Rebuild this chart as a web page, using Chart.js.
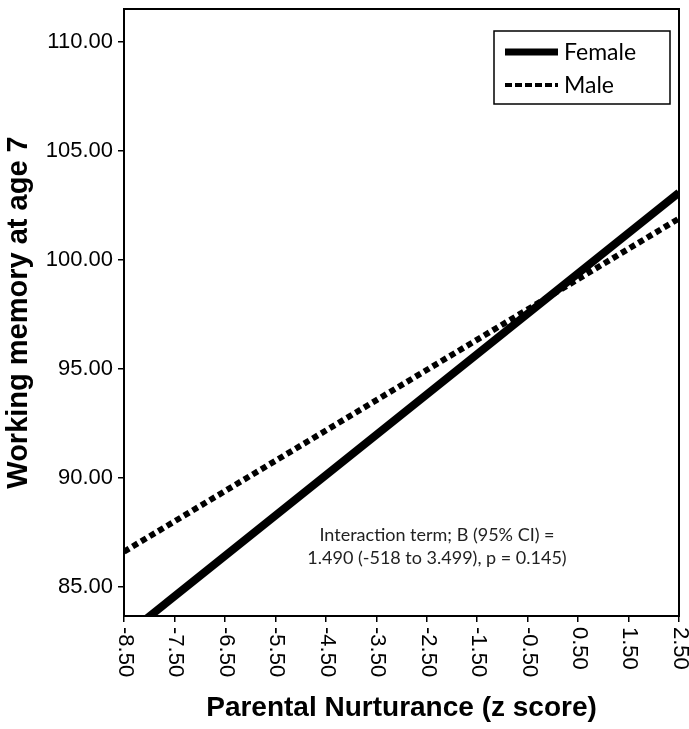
<!DOCTYPE html>
<html>
<head>
<meta charset="utf-8">
<script src="https://cdn.jsdelivr.net/npm/chart.js@4"></script>
<style>
  body { margin: 0; background: #fff; }
  canvas { display: block; }
</style>
</head>
<body>
<canvas id="chart" width="689" height="729"></canvas>
<script>
// values
const nurturance = [-8.5, 2.5];
const female = [82.72, 103.09];
const male = [86.62, 101.9];
const xTicks = [-8.5, -7.5, -6.5, -5.5, -4.5, -3.5, -2.5, -1.5, -0.5, 0.5, 1.5, 2.5];
const yTicks = [85, 90, 95, 100, 105, 110];
const yMin = 83.67;
const yMax = 111.51;
const note = ["Interaction term; B (95% CI) =", "1.490 (-518 to 3.499), p = 0.145)"];

var canvas = document.getElementById("chart");

// frame, rotated x labels, legend box and note
const extras = {
  id: "extras",
  afterDraw(chart) {
    const ctx = chart.ctx;
    const a = chart.chartArea;
    const xs = chart.scales.x;
    ctx.save();

    ctx.strokeStyle = "#000";
    ctx.lineWidth = 2;
    ctx.strokeRect(a.left, a.top, a.right - a.left, a.bottom - a.top);

    // x tick labels read top to bottom
    ctx.fillStyle = "#000";
    ctx.font = "22px 'Liberation Sans', Arial, sans-serif";
    ctx.textAlign = "left";
    ctx.textBaseline = "middle";
    xs.ticks.forEach((t) => {
      const px = xs.getPixelForValue(t.value);
      ctx.save();
      ctx.translate(px + 1, a.bottom + 11);
      ctx.rotate(Math.PI / 2);
      ctx.fillText(t.value.toFixed(2), 0, 0);
      ctx.restore();
    });

    // legend
    const lx = 494, ly = 31, lw = 176, lh = 73;
    ctx.lineWidth = 1.5;
    ctx.strokeRect(lx, ly, lw, lh);
    ctx.font = "23px Lato, 'Open Sans', sans-serif";
    ctx.textAlign = "left";
    ctx.textBaseline = "middle";
    chart.data.datasets.forEach((ds, i) => {
      const y = ly + 21 + i * 33;
      ctx.save();
      ctx.strokeStyle = ds.borderColor;
      ctx.lineWidth = i === 0 ? 7 : 4;
      ctx.setLineDash(i === 0 ? [] : [7, 3]);
      ctx.beginPath();
      ctx.moveTo(lx + 11, y);
      ctx.lineTo(lx + 64, y);
      ctx.stroke();
      ctx.restore();
      ctx.fillText(ds.label, lx + 70, y + 1);
    });

    // note
    ctx.fillStyle = "#222";
    ctx.font = "18px Lato, 'Open Sans', sans-serif";
    ctx.textAlign = "center";
    ctx.textBaseline = "alphabetic";
    note.forEach((line, i) => ctx.fillText(line, 437, 541 + i * 23));

    ctx.restore();
  },
};

const chart = new Chart(canvas, {
  type: "scatter",
  data: {
    datasets: [
      {
        label: "Female",
        data: nurturance.map((x, i) => ({ x: x, y: female[i] })),
        showLine: true,
        borderColor: "#000",
        borderWidth: 8,
        pointRadius: 0,
        clip: 0,
      },
      {
        label: "Male",
        data: nurturance.map((x, i) => ({ x: x, y: male[i] })),
        showLine: true,
        borderColor: "#000",
        borderWidth: 6,
        borderDash: [6, 4],
        pointRadius: 0,
        clip: 0,
      },
    ],
  },
  options: {
    responsive: false,
    devicePixelRatio: 1,
    animation: false,
    layout: { padding: { top: 9, right: 10, left: 0, bottom: 0 } },
    plugins: {
      legend: { display: false },
      tooltip: { enabled: false },
    },
    scales: {
      x: {
        type: "linear",
        min: -8.5,
        max: 2.5,
        afterBuildTicks: (s) => { s.ticks = xTicks.map((v) => ({ value: v })); },
        afterFit: (s) => { s.height = 113; s.paddingLeft = 0; s.paddingRight = 0; },
        ticks: { display: false },
        grid: {
          drawOnChartArea: false,
          drawTicks: true,
          tickLength: 6,
          color: "#000",
          lineWidth: 1.5,
        },
        border: { display: true, color: "#000", width: 2 },
        title: {
          display: true,
          text: "Parental Nurturance (z score)",
          color: "#000",
          font: { family: "'Liberation Sans', Arial, sans-serif", size: 28, weight: "bold" },
          padding: { top: 0, bottom: 4 },
        },
      },
      y: {
        min: yMin,
        max: yMax,
        afterBuildTicks: (s) => { s.ticks = yTicks.map((v) => ({ value: v })); },
        afterFit: (s) => { s.width = 124; s.paddingTop = 0; s.paddingBottom = 0; },
        ticks: {
          color: "#000",
          padding: 5,
          font: { family: "'Liberation Sans', Arial, sans-serif", size: 22 },
          callback: (v) => Number(v).toFixed(2),
        },
        grid: {
          drawOnChartArea: false,
          drawTicks: true,
          tickLength: 6,
          color: "#000",
          lineWidth: 1.5,
        },
        border: { display: true, color: "#000", width: 2 },
        title: {
          display: true,
          text: "Working memory at age 7",
          color: "#000",
          font: { family: "'Liberation Sans', Arial, sans-serif", size: 29, weight: "bold" },
          padding: { top: 2, bottom: 0 },
        },
      },
    },
  },
  plugins: [extras],
});
</script>
</body>
</html>
